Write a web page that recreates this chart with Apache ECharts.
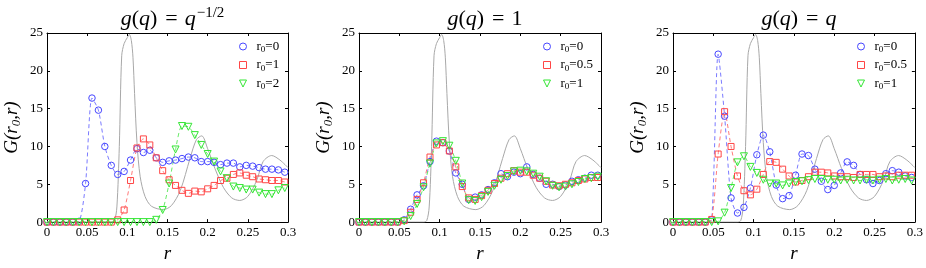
<!DOCTYPE html>
<html><head><meta charset="utf-8">
<script src="https://cdn.jsdelivr.net/npm/echarts@6/dist/echarts.min.js"></script>
<style>html,body{margin:0;padding:0;background:#fff}#c{width:926px;height:268px}</style>
</head><body><div id="c"></div>
<script>
// ---- data ----
const rGrid = [0,0.008,0.016,0.024,0.032,0.04,0.048,0.056,0.064,0.072,0.08,0.088,0.096,0.104,0.112,0.12,0.128,0.136,0.144,0.152,0.16,0.168,0.176,0.184,0.192,0.2,0.208,0.216,0.224,0.232,0.24,0.248,0.256,0.264,0.272,0.28,0.288,0.296];

// reference curve (grey)
const grayR = [0,0.06,0.08,0.084,0.087,0.09,0.093,0.096,0.1,0.1025,0.105,0.107,0.109,0.112,0.116,0.122,0.13,0.1448,0.155,0.166,0.178,0.186,0.1926,0.2,0.209,0.2195,0.23,0.24,0.25,0.261,0.269,0.2797,0.29,0.3];
const grayV = [0,0,0,0.2,2.0,10.0,22.0,23.6,24.4,24.8,24.0,21.8,17.0,10.5,6.0,3.4,2.1,1.65,2.2,4.2,8.4,10.9,11.4,9.7,7.1,4.6,3.2,2.86,3.4,5.5,8.0,8.8,8.2,7.2];

// panel 1: g(q) = q^-1/2
const p1Blue  = [0,0,0,0,0,0.1,5.1,16.4,14.8,10.0,7.5,6.3,6.7,8.2,9.7,9.2,9.5,8.5,7.9,8.1,8.2,8.4,8.6,8.5,8.0,8.0,7.9,7.6,7.8,7.8,7.3,7.5,7.4,7.2,7.0,7.0,6.9,6.6];
const p1Red   = [0,0,0,0,0,0,0,0,0,0,0,0.3,1.6,5.5,9.8,11.0,10.2,8.5,6.8,5.6,4.85,4.2,3.8,4.1,4.0,4.4,4.85,5.5,5.8,6.3,6.5,6.2,6.0,5.7,5.6,5.5,5.5,5.3];
const p1Green = [0,0,0,0,0,0,0,0,0,0,0,0,0,0,0,0,0,0.3,1.6,5.1,9.6,12.7,12.6,11.5,10.2,9.0,8.0,6.7,5.8,4.7,4.5,4.3,4.3,3.9,3.7,3.7,4.2,4.5];

// panel 2: g(q) = 1
const p2Blue  = [0,0,0,0,0,0,0,0.3,1.7,3.6,4.8,8.0,10.7,10.5,9.4,6.5,5.0,3.0,3.3,3.6,4.3,5.2,6.4,6.0,6.6,6.4,7.3,6.3,5.8,5.0,5.0,4.7,4.9,5.4,5.6,5.8,6.2,6.2];
const p2Red   = [0,0,0,0,0,0,0,0.2,1.3,3.0,5.2,8.6,10.2,10.5,9.4,7.3,4.7,3.2,3.0,3.5,4.2,5.1,5.8,6.4,6.8,6.6,6.6,6.2,5.8,5.4,4.9,4.8,5.0,5.2,5.5,5.7,5.9,5.9];
const p2Green = [0,0,0,0,0,0,0,0.1,0.8,2.4,4.6,7.75,10.4,10.7,10.1,8.1,5.1,2.9,2.8,3.3,4.0,4.8,5.6,6.1,6.7,6.8,6.7,6.4,6.0,5.4,4.8,4.6,4.7,5.0,5.3,5.7,5.8,6.0];

// panel 3: g(q) = q
const p3Blue  = [0,0,0,0,0,0,0.3,22.2,14.0,3.2,1.2,1.95,4.5,8.9,11.5,9.3,4.9,3.1,3.5,6.2,9.0,8.8,7.0,5.4,4.3,4.85,6.5,7.96,7.5,6.3,5.6,5.1,5.5,6.4,6.8,6.6,6.1,5.9];
const p3Red   = [0,0,0,0,0,0,0.35,9.0,14.6,10.0,6.1,4.15,3.6,4.35,6.3,8.0,7.9,7.0,6.1,5.3,5.5,6.0,6.6,6.6,6.5,6.1,6.0,6.0,5.9,6.3,6.3,6.3,6.0,6.1,6.0,6.2,6.2,6.2];
const p3Green = [0,0,0,0,0,0,0,0.1,1.25,4.5,7.9,8.7,7.3,6.5,5.6,5.1,5.1,4.85,5.1,5.3,5.4,5.55,5.7,5.7,5.6,5.6,5.5,5.6,5.5,5.5,5.6,5.5,5.6,5.7,5.5,5.6,5.7,5.5];

const xTickLabels = ['0','0.05','0.1','0.15','0.2','0.25','0.3'];
const yTickLabels = ['0','5','10','15','20','25'];
const legendValues = [['0','1','2'],['0','0.5','1'],['0','0.5','1']];
const titleTexts = [
  '{i|g}{n|(}{i|q}{n|)}{eq|=}{i|q}{sup|\u22121/2}',
  '{i|g}{n|(}{i|q}{n|)}{eq|=}{n|1}',
  '{i|g}{n|(}{i|q}{n|)}{eq|=}{i|q}'
];
const panelData = [[p1Blue,p1Red,p1Green],[p2Blue,p2Red,p2Green],[p3Blue,p3Red,p3Green]];

// ---- layout / style ----
const serif = 'Liberation Serif';
const layout = [
  {left:47, width:241, legendLeft:239},
  {left:359, width:242, legendLeft:543},
  {left:673, width:242, legendLeft:857}
];
const styles = [
  {mark:'#4646ff', line:'#7a7aff', symbol:'circle', size:6.5},
  {mark:'#ff4646', line:'#ff7a7a', symbol:'rect', size:6},
  {mark:'#33e633', line:'#6aea6a', symbol:'path://M0,0L10,0L5,10Z', size:7}
];

const option = {
  animation:false,
  backgroundColor:'#fff',
  title:[], grid:[], xAxis:[], yAxis:[], series:[], legend:[]
};

const titleRich = {
  i:{fontFamily:serif, fontStyle:'italic', fontWeight:'normal', fontSize:22, lineHeight:26, color:'#000'},
  n:{fontFamily:serif, fontWeight:'normal', fontSize:22, lineHeight:26, color:'#000'},
  eq:{fontFamily:serif, fontWeight:'normal', fontSize:22, lineHeight:26, color:'#000', padding:[0,7,0,8]},
  sup:{fontFamily:serif, fontWeight:'normal', fontSize:15, lineHeight:15, verticalAlign:'top', color:'#000', padding:[0,0,0,1]}
};
const legRich = {
  r:{fontFamily:serif, fontSize:13, lineHeight:16, color:'#000', padding:[0,0,0,5]},
  s:{fontFamily:serif, fontSize:9, lineHeight:9, verticalAlign:'bottom', color:'#000'},
  e:{fontFamily:serif, fontSize:13, lineHeight:16, color:'#000'}
};

layout.forEach((L, p) => {
  option.title.push({
    text: titleTexts[p], left: L.left + L.width/2, top: 1, textAlign:'center',
    textStyle:{fontWeight:'normal', rich:titleRich}
  });
  option.grid.push({left:L.left, top:33, width:L.width, height:201});
  const tickCommon = {inside:true, length:3, lineStyle:{color:'#000', width:1}};
  option.xAxis.push({
    gridIndex:p, type:'value', min:0, max:0.3, interval:0.05,
    axisLine:{show:true, onZero:false, lineStyle:{color:'#000', width:1}},
    axisTick:tickCommon, splitLine:{show:false},
    axisLabel:{color:'#000', fontFamily:serif, fontSize:13, margin:4,
      formatter:v => xTickLabels[Math.round(v/0.05)]},
    name:'r', nameLocation:'middle', nameGap:15,
    nameTextStyle:{fontFamily:serif, fontStyle:'italic', fontSize:19, color:'#000'}
  });
  option.xAxis.push({
    gridIndex:p, type:'value', position:'top', min:0, max:0.3, interval:0.05,
    axisLine:{show:true, onZero:false, lineStyle:{color:'#000', width:1}},
    axisTick:tickCommon, axisLabel:{show:false}, splitLine:{show:false}
  });
  option.yAxis.push({
    gridIndex:p, type:'value', min:0, max:25, interval:5,
    axisLine:{show:true, onZero:false, lineStyle:{color:'#000', width:1}},
    axisTick:tickCommon, splitLine:{show:false},
    axisLabel:{color:'#000', fontFamily:serif, fontSize:13, margin:4,
      formatter:v => yTickLabels[Math.round(v/5)]},
    name:'{i|G(r}{s|0}{i|,r)}', nameLocation:'middle', nameGap:24, nameRotate:90,
    nameTextStyle:{rich:{
      i:{fontFamily:serif, fontStyle:'italic', fontSize:19, lineHeight:22, color:'#000'},
      s:{fontFamily:serif, fontStyle:'italic', fontSize:13, lineHeight:13, verticalAlign:'bottom', color:'#000'}
    }}
  });
  option.yAxis.push({
    gridIndex:p, type:'value', position:'right', min:0, max:25, interval:5,
    axisLine:{show:true, onZero:false, lineStyle:{color:'#000', width:1}},
    axisTick:tickCommon, axisLabel:{show:false}, splitLine:{show:false}
  });
  // grey reference curve
  option.series.push({
    type:'line', xAxisIndex:2*p, yAxisIndex:2*p, showSymbol:false, symbol:'none',
    smooth:0.3, data: grayR.map((r,i)=>[r, grayV[i]]),
    lineStyle:{color:'#a8a8a8', width:1}, z:1, silent:true
  });
  const legData = [];
  panelData[p].forEach((vals, s) => {
    const st = styles[s];
    const name = 'P' + p + 'S' + s;
    legData.push({name, icon: st.symbol});
    option.series.push({
      name, type:'line', xAxisIndex:2*p, yAxisIndex:2*p,
      data: rGrid.map((r,i)=>[r, vals[i]]),
      symbol: st.symbol, symbolSize: st.size, showAllSymbol:true, smooth:0.25,
      itemStyle:{color:'rgba(255,255,255,0)', borderColor:st.mark, borderWidth:1},
      lineStyle:{color:st.line, width:1, type:[4,3]},
      z:3
    });
  });
  option.legend.push({
    data: legData, orient:'vertical', left:L.legendLeft, top:40, padding:0,
    itemWidth:7, itemHeight:7, itemGap:4, selectedMode:false,
    itemStyle:{borderWidth:1},
    formatter: name => {
      const s = +name.slice(3);
      return '{r|r}{s|0}{e|=' + legendValues[p][s] + '}';
    },
    textStyle:{rich:legRich}
  });
});

const chart = echarts.init(document.getElementById('c'));
chart.setOption(option);
</script>
</body></html>
